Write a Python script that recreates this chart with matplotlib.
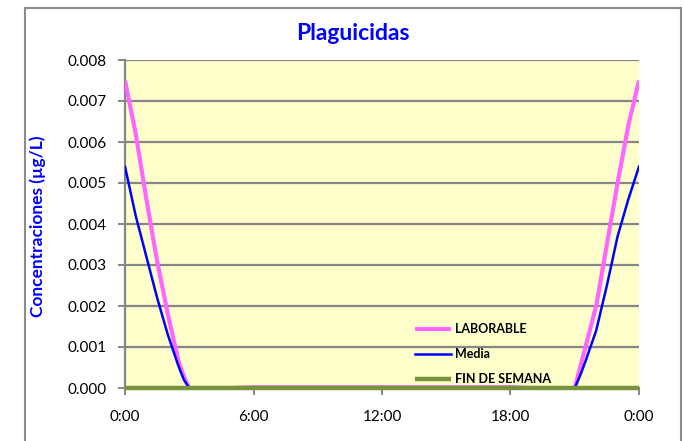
import matplotlib
matplotlib.use("Agg")
import matplotlib.pyplot as plt
from matplotlib.patches import Rectangle

plt.rcParams['font.family'] = ['Lato', 'DejaVu Sans']

# horas del dia (0-24)
horas = [0, 0.5, 1, 1.5, 2, 2.5, 2.75, 3, 4, 5, 6, 7, 8, 9, 10, 11, 12, 13,
         14, 15, 16, 17, 18, 19, 20, 21, 21.25, 21.5, 22, 22.5, 23, 23.5, 24]
laborable = [0.0075, 0.0062, 0.0046, 0.0031, 0.0018, 0.00065, 0.00027, 0.0,
             0.0, 0.0, 0.00002, 0.00002, 0.00002, 0.00002, 0.00002, 0.00002,
             0.00002, 0.00002, 0.00002, 0.00002, 0.00002, 0.00002, 0.00002,
             0.0, 0.0, 0.0, 0.0005, 0.0010, 0.0020, 0.0035, 0.0050, 0.0064,
             0.0075]
media = [0.0054, 0.0042, 0.0032, 0.0022, 0.0013, 0.00053, 0.0002, 0.0,
         0.0, 0.0, 0.0, 0.0, 0.0, 0.0, 0.0, 0.0, 0.0, 0.0, 0.0, 0.0, 0.0,
         0.0, 0.0, 0.0, 0.0, 0.0, 0.0003, 0.00065, 0.0014, 0.0025, 0.0037,
         0.0046, 0.0054]
fin_semana = [0.0] * len(horas)

xticks = [0, 6, 12, 18, 24]
xlabels = ['0:00', '6:00', '12:00', '18:00', '0:00']

W, H = 684, 441
fig = plt.figure(figsize=(W / 100, H / 100), dpi=100)

# marco del grafico
fig.patches.append(Rectangle((25 / W, -0.1), (681 - 25) / W, 1.1 - 8 / H,
                             transform=fig.transFigure, fill=False,
                             edgecolor='#8c8c8c', lw=1.5))

ax = fig.add_axes([125 / W, 1 - 388 / H, (639 - 125) / W, (388 - 60) / H])
ax.set_facecolor('#FFFFCC')

gris = '#868686'
ax.plot(horas, laborable, color='#FF66FF', lw=3.0, label='LABORABLE',
        solid_capstyle='butt', zorder=3)
ax.plot(horas, media, color='#0000FF', lw=1.8, label='Media', zorder=4)
ax.plot(horas, fin_semana, color='#77933C', lw=3.2, label='FIN DE SEMANA',
        solid_capstyle='butt', zorder=5, clip_on=False)

ax.set_xlim(0, 24)
ax.set_ylim(0, 0.008)
ax.set_xticks(xticks)
ax.set_xticklabels(xlabels)
ax.set_yticks([i * 0.001 for i in range(9)])
ax.yaxis.set_major_formatter(matplotlib.ticker.FormatStrFormatter('%.3f'))
ax.grid(axis='y', color=gris, lw=1.6, zorder=1)
ax.set_axisbelow(True)
for s in ['right', 'top']:
    ax.spines[s].set_visible(False)
ax.spines['left'].set_color(gris)
ax.spines['left'].set_linewidth(1.6)
ax.spines['bottom'].set_color(gris)
ax.spines['bottom'].set_linewidth(1.6)
ax.tick_params(axis='both', colors=gris, length=5, width=1.4, labelsize=11,
               labelcolor='black')
ax.tick_params(axis='x', pad=11)
ax.tick_params(axis='y', pad=8)

fig.text(353 / W, 1 - 34 / H, 'Plaguicidas', ha='center', va='center',
         fontsize=16.5, fontweight='bold', color='#0000FF')
fig.text(38 / W, 1 - 226 / H, 'Concentraciones (µg/L)', ha='center',
         va='center', rotation=90, fontsize=12.5, fontweight='bold',
         color='#0000FF')

leg = ax.legend(loc='upper left', bbox_to_anchor=(415 / W, 1 - 323 / H),
                bbox_transform=fig.transFigure, frameon=False,
                prop={'weight': 'bold', 'size': 9}, handlelength=2.9,
                handletextpad=0.3, labelspacing=1.05, borderpad=0,
                borderaxespad=0)

fig.savefig('out.png', dpi=100)
